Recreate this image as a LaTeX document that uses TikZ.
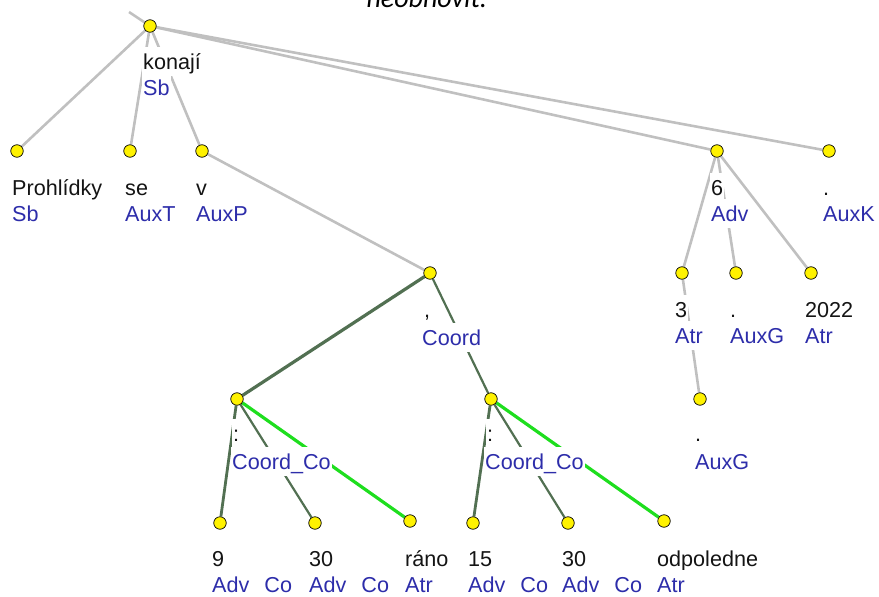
\documentclass[tikz,border=0pt]{standalone}
\usepackage{fontspec}
\setmainfont{Liberation Sans}
\newfontfamily\notefont{Carlito}
\usetikzlibrary{backgrounds}
\definecolor{edgegray}{RGB}{192,192,192}
\definecolor{coordgreen}{RGB}{82,112,82}
\definecolor{lightgreen}{RGB}{30,222,30}
\definecolor{wordcol}{RGB}{20,20,20}
\definecolor{funccol}{RGB}{45,45,170}
\begin{document}
\begin{tikzpicture}[x=1pt,y=-1pt,
    dot/.style={circle,draw=black,fill=yellow,line width=0.7pt,inner sep=0pt,minimum size=12.5pt},
    wrd/.style={anchor=base west,fill=white,inner xsep=1pt,inner ysep=2pt,text=wordcol,
      text height=20pt,text depth=5pt,font=\fontsize{21.6}{26}\selectfont},
    fn/.style={wrd,text=funccol},
    gedge/.style={draw=edgegray,line width=2.6pt},
    cedge/.style={draw=coordgreen,line width=2.2pt},
    hedge/.style={draw=lightgreen,line width=3.2pt}]
  \useasboundingbox (0,0) rectangle (879,597);

  \node[anchor=base west,font=\notefont\itshape\fontsize{28}{30}\selectfont] (cap) at (363,8) {neobnovit.};

  % tree nodes
  \node[dot] (r) at (150,26) {};
  \node[dot] (prohl) at (17,151) {};
  \node[dot] (se) at (130,151) {};
  \node[dot] (v) at (202,151) {};
  \node[dot] (six) at (717,151) {};
  \node[dot] (auxk) at (829,151) {};
  \node[dot] (coord) at (430,273) {};
  \node[dot] (three) at (682,273) {};
  \node[dot] (dotg) at (736,273) {};
  \node[dot] (year) at (811,273) {};
  \node[dot] (cca) at (237,399) {};
  \node[dot] (ccb) at (491,399) {};
  \node[dot] (dotgb) at (700,399) {};
  \node[dot] (nine) at (220,523) {};
  \node[dot] (thirtya) at (315,523) {};
  \node[dot] (rano) at (410,521) {};
  \node[dot] (fifteen) at (473,523) {};
  \node[dot] (thirtyb) at (568,523) {};
  \node[dot] (odp) at (664,521) {};
  \coordinate (up) at (129,12);

  \begin{scope}[on background layer]
    \draw[gedge] (r) -- (up);
    \draw[gedge] (r) -- (prohl);
    \draw[gedge] (r) -- (se);
    \draw[gedge] (r) -- (v);
    \draw[gedge] (r) -- (six);
    \draw[gedge] (r) -- (auxk);
    \draw[gedge] (v) -- (coord);
    \draw[gedge] (six) -- (three);
    \draw[gedge] (six) -- (dotg);
    \draw[gedge] (six) -- (year);
    \draw[gedge] (three) -- (dotgb);
    \draw[cedge,line width=3.2pt] (coord) -- (cca);
    \draw[cedge] (coord) -- (ccb);
    \draw[cedge,line width=2.8pt] (cca) -- (nine);
    \draw[cedge] (cca) -- (thirtya);
    \draw[hedge] (cca) -- (rano);
    \draw[cedge,line width=2.8pt] (ccb) -- (fifteen);
    \draw[cedge] (ccb) -- (thirtyb);
    \draw[hedge] (ccb) -- (odp);
  \end{scope}

  % labels
  \node[wrd] (rw) at ([shift={(-8,43)}]r) {konají};
  \node[fn] (rf) at ([shift={(-8,69)}]r) {Sb};
  \node[wrd] (prohlw) at ([shift={(-6,44)}]prohl) {Prohlídky};
  \node[fn] (prohlf) at ([shift={(-6,70)}]prohl) {Sb};
  \node[wrd] (sew) at ([shift={(-6,44)}]se) {se};
  \node[fn] (sef) at ([shift={(-6,70)}]se) {AuxT};
  \node[wrd] (vw) at ([shift={(-7,44)}]v) {v};
  \node[fn] (vf) at ([shift={(-7,70)}]v) {AuxP};
  \node[wrd] (sixw) at ([shift={(-7,44)}]six) {6};
  \node[fn] (sixf) at ([shift={(-7,70)}]six) {Adv};
  \node[wrd] (auxkw) at ([shift={(-7,44)}]auxk) {.};
  \node[fn] (auxkf) at ([shift={(-7,70)}]auxk) {AuxK};
  \node[wrd] (coordw) at ([shift={(-7,44)}]coord) {,};
  \node[fn] (coordf) at ([shift={(-9,72)}]coord) {Coord};
  \node[wrd] (threew) at ([shift={(-8,44)}]three) {3};
  \node[fn] (threef) at ([shift={(-8,70)}]three) {Atr};
  \node[wrd] (dotgw) at ([shift={(-7,44)}]dotg) {.};
  \node[fn] (dotgf) at ([shift={(-7,70)}]dotg) {AuxG};
  \node[wrd] (yearw) at ([shift={(-7,44)}]year) {2022};
  \node[fn] (yearf) at ([shift={(-7,70)}]year) {Atr};
  \node[wrd] (ccaw) at ([shift={(-5,42)}]cca) {:};
  \node[fn] (ccaf) at ([shift={(-6,70)}]cca) {Coord\_Co};
  \node[wrd] (ccbw) at ([shift={(-5,42)}]ccb) {:};
  \node[fn] (ccbf) at ([shift={(-7,70)}]ccb) {Coord\_Co};
  \node[wrd] (dotgbw) at ([shift={(-6,42)}]dotgb) {.};
  \node[fn] (dotgbf) at ([shift={(-6,70)}]dotgb) {AuxG};
  \node[wrd] (ninew) at ([shift={(-9,43)}]nine) {9};
  \node[fn] (ninef) at ([shift={(-9,69)}]nine) {Adv\hspace{15pt}Co};
  \node[wrd] (thirtyaw) at ([shift={(-7,43)}]thirtya) {30};
  \node[fn] (thirtyaf) at ([shift={(-7,69)}]thirtya) {Adv\hspace{15pt}Co};
  \node[wrd] (ranow) at ([shift={(-6,45)}]rano) {ráno};
  \node[fn] (ranof) at ([shift={(-6,71)}]rano) {Atr};
  \node[wrd] (fifteenw) at ([shift={(-6,43)}]fifteen) {15};
  \node[fn] (fifteenf) at ([shift={(-6,69)}]fifteen) {Adv\hspace{15pt}Co};
  \node[wrd] (thirtybw) at ([shift={(-7,43)}]thirtyb) {30};
  \node[fn] (thirtybf) at ([shift={(-7,69)}]thirtyb) {Adv\hspace{15pt}Co};
  \node[wrd] (odpw) at ([shift={(-8,45)}]odp) {odpoledne};
  \node[fn] (odpf) at ([shift={(-8,71)}]odp) {Atr};
\end{tikzpicture}
\end{document}
